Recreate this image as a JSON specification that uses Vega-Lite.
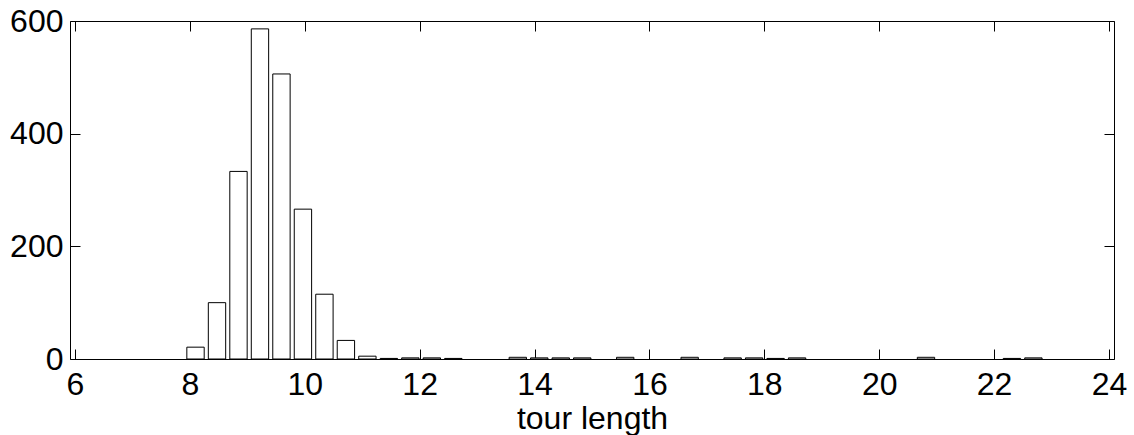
{
  "$schema": "https://vega.github.io/schema/vega-lite/v6.json",
  "width": 1044,
  "height": 338,
  "autosize": {"type": "none"},
  "padding": {"left": 70, "top": 21, "right": 20, "bottom": 76},
  "background": "white",
  "config": {
    "view": {"stroke": null},
    "font": "Liberation Sans",
    "axis": {
      "labelFont": "Liberation Sans",
      "titleFont": "Liberation Sans",
      "labelColor": "black",
      "titleColor": "black",
      "domainColor": "black",
      "domainWidth": 1,
      "tickColor": "black",
      "tickWidth": 1,
      "grid": false,
      "labelFlush": false,
      "labelOverlap": false,
      "labelBound": false
    }
  },
  "data": {
    "values": [
      {"length": 8.098, "count": 21},
      {"length": 8.472, "count": 100},
      {"length": 8.846, "count": 333},
      {"length": 9.220, "count": 586},
      {"length": 9.594, "count": 506},
      {"length": 9.968, "count": 266},
      {"length": 10.342, "count": 115},
      {"length": 10.716, "count": 33},
      {"length": 11.090, "count": 5},
      {"length": 11.464, "count": 1},
      {"length": 11.838, "count": 2},
      {"length": 12.212, "count": 2},
      {"length": 12.586, "count": 1},
      {"length": 13.708, "count": 3},
      {"length": 14.082, "count": 2},
      {"length": 14.456, "count": 2},
      {"length": 14.830, "count": 2},
      {"length": 15.578, "count": 3},
      {"length": 16.700, "count": 3},
      {"length": 17.448, "count": 2},
      {"length": 17.822, "count": 2},
      {"length": 18.196, "count": 1},
      {"length": 18.570, "count": 2},
      {"length": 20.814, "count": 3},
      {"length": 22.310, "count": 1},
      {"length": 22.684, "count": 2}
    ]
  },
  "layer": [
    {
      "mark": {"type": "bar", "width": 17.35, "fill": "white", "stroke": "black", "strokeWidth": 1},
      "encoding": {
        "x": {
          "field": "length", "type": "quantitative",
          "scale": {"domain": [6, 24], "nice": false, "zero": false},
          "axis": {
            "orient": "bottom",
            "values": [6, 8, 10, 12, 14, 16, 18, 20, 22, 24],
            "format": "d",
            "labelFontSize": 32,
            "tickSize": -10,
            "labelPadding": 20,
            "title": "tour length",
            "titleFontSize": 32,
            "titleFontWeight": "normal",
            "titlePadding": 3
          }
        },
        "y": {
          "field": "count", "type": "quantitative",
          "scale": {"domain": [0, 600], "nice": false},
          "axis": {
            "orient": "left",
            "values": [0, 200, 400, 600],
            "format": "d",
            "labelFontSize": 32,
            "tickSize": -10,
            "labelPadding": 17,
            "title": null
          }
        }
      }
    },
    {
      "mark": {"type": "bar", "width": 17.35, "opacity": 0},
      "encoding": {
        "x": {
          "field": "length", "type": "quantitative",
          "axis": {
            "orient": "top",
            "values": [6, 8, 10, 12, 14, 16, 18, 20, 22, 24],
            "labels": false,
            "tickSize": -10,
            "title": null
          }
        },
        "y": {
          "field": "count", "type": "quantitative",
          "axis": {
            "orient": "right",
            "values": [0, 200, 400, 600],
            "labels": false,
            "tickSize": -10,
            "title": null
          }
        }
      }
    }
  ],
  "resolve": {"axis": {"x": "independent", "y": "independent"}}
}
